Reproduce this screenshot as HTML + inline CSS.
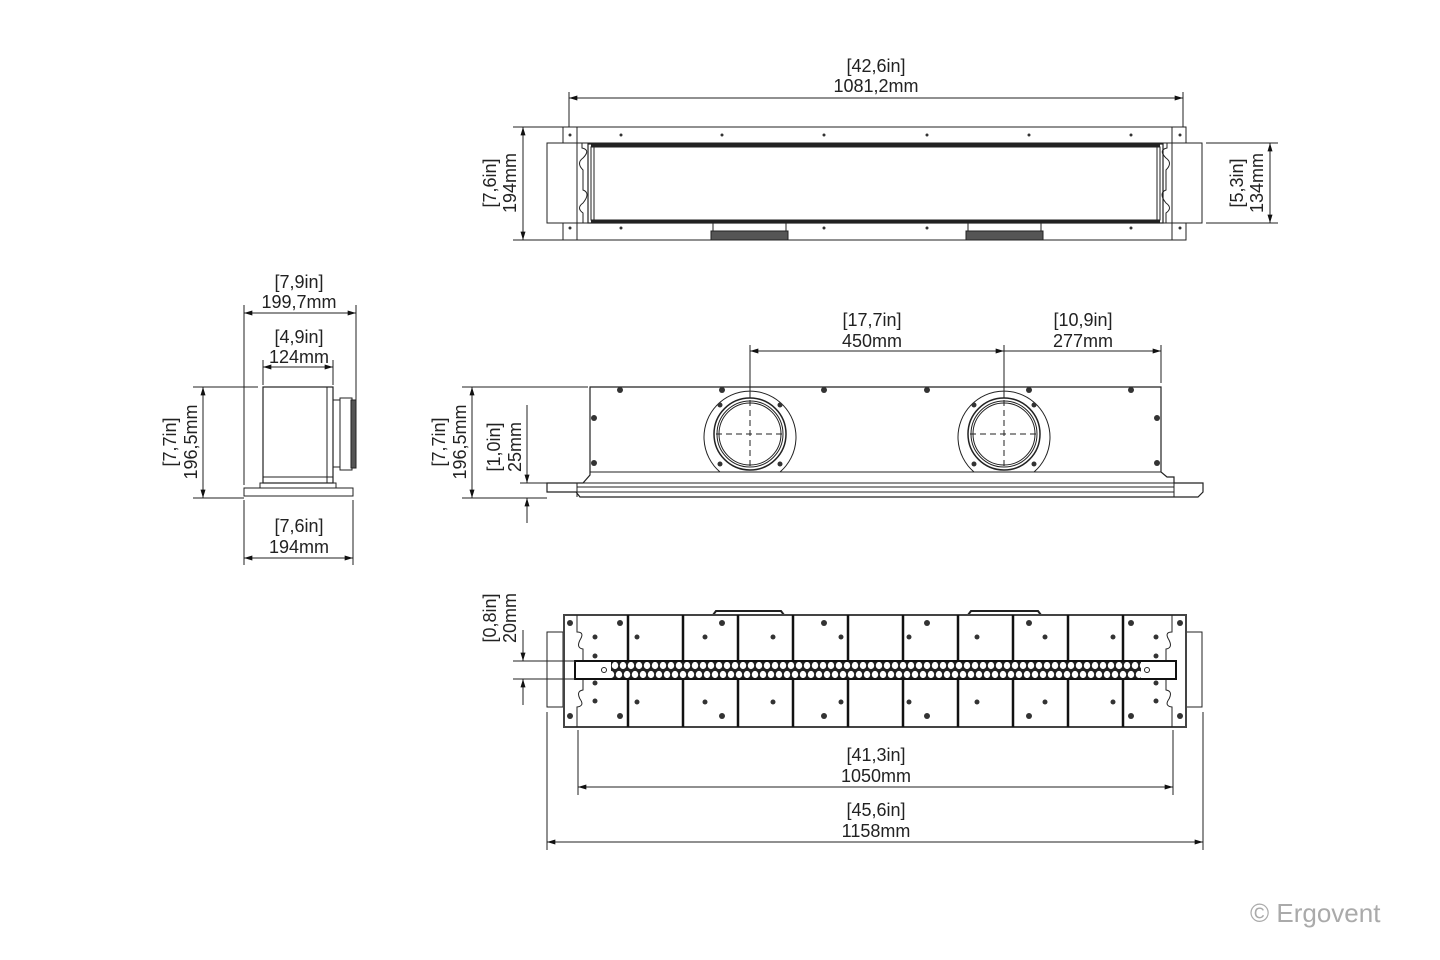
<!DOCTYPE html>
<html><head><meta charset="utf-8"><style>
html,body{margin:0;padding:0;background:#fff}
svg{display:block}
text{font-family:"Liberation Sans",sans-serif;font-size:18px;fill:#222}
</style></head><body>
<svg width="1440" height="960" viewBox="0 0 1440 960" xmlns="http://www.w3.org/2000/svg">
<defs>
<marker id="a" viewBox="0 0 10 6" refX="10" refY="3" markerWidth="14" markerHeight="5" orient="auto-start-reverse" markerUnits="userSpaceOnUse"><path d="M0,0L10,3L0,6z" fill="#111"/></marker>
<pattern id="hex" x="611" y="661" width="8" height="18" patternUnits="userSpaceOnUse">
<rect width="8" height="18" fill="#222"/>
<ellipse cx="4" cy="4.5" rx="3.2" ry="3.6" fill="#fff"/>
<ellipse cx="0" cy="13.5" rx="3.2" ry="3.6" fill="#fff"/>
<ellipse cx="8" cy="13.5" rx="3.2" ry="3.6" fill="#fff"/>
</pattern>
</defs>
<g fill="none" stroke="#222" stroke-width="1">

<!-- ================= TOP VIEW ================= -->
<line x1="569" y1="92" x2="569" y2="200"/>
<line x1="1183" y1="92" x2="1183" y2="200"/>
<line x1="569" y1="98" x2="1183" y2="98" marker-start="url(#a)" marker-end="url(#a)"/>
<rect x="563" y="127" width="623" height="113"/>
<rect x="547" y="143" width="655" height="80" fill="#fff"/>
<rect x="563" y="127" width="623" height="16" fill="#fff"/>
<rect x="563" y="223" width="623" height="17" fill="#fff"/>
<line x1="577" y1="127" x2="577" y2="240"/>
<line x1="1172" y1="127" x2="1172" y2="240"/>
<path d="M577,143 H582 V148 Q591,150 583,158 Q576,163 583,170 V190 Q591,193 583,203 Q576,208 583,213 V223"/>
<path d="M1172,143 H1167 V148 Q1158,150 1166,158 Q1173,163 1166,170 V190 Q1158,193 1166,203 Q1173,208 1166,213 V223"/>
<rect x="588" y="144" width="575" height="79" stroke-width="1.2"/>
<line x1="591" y1="145" x2="1160" y2="145" stroke-width="3"/>
<line x1="591" y1="221" x2="1160" y2="221" stroke-width="3"/>
<rect x="591" y="147" width="569" height="73"/>
<line x1="594" y1="147" x2="594" y2="220"/>
<line x1="1157" y1="147" x2="1157" y2="220"/>
<rect x="713" y="223" width="73" height="8"/>
<rect x="711" y="231" width="77" height="9" fill="#555"/>
<rect x="968" y="223" width="73" height="8"/>
<rect x="966" y="231" width="77" height="9" fill="#555"/>
<line x1="513" y1="127" x2="563" y2="127"/>
<line x1="513" y1="240" x2="563" y2="240"/>
<line x1="523" y1="127" x2="523" y2="240" marker-start="url(#a)" marker-end="url(#a)"/>
<line x1="1206" y1="143" x2="1278" y2="143"/>
<line x1="1206" y1="223" x2="1278" y2="223"/>
<line x1="1270" y1="143" x2="1270" y2="223" marker-start="url(#a)" marker-end="url(#a)"/>

<!-- ================= SIDE VIEW ================= -->
<line x1="244" y1="305" x2="244" y2="485"/>
<line x1="356" y1="305" x2="356" y2="400"/>
<line x1="244" y1="313" x2="356" y2="313" marker-start="url(#a)" marker-end="url(#a)"/>
<line x1="263" y1="360" x2="263" y2="385"/>
<line x1="333" y1="360" x2="333" y2="385"/>
<line x1="263" y1="367" x2="333" y2="367" marker-start="url(#a)" marker-end="url(#a)"/>
<rect x="263" y="387" width="70" height="96" stroke-width="1.2"/>
<line x1="327" y1="387" x2="327" y2="483"/>
<line x1="263" y1="477" x2="333" y2="477"/>
<rect x="260" y="483" width="76" height="5"/>
<path d="M333,400 H340 V467 H333"/>
<rect x="340" y="398" width="12" height="72"/>
<rect x="351" y="400" width="5" height="68" fill="#555"/>
<rect x="244" y="488" width="109" height="8" fill="#fff"/>
<line x1="193" y1="387" x2="258" y2="387"/>
<line x1="193" y1="498" x2="244" y2="498"/>
<line x1="203" y1="387" x2="203" y2="498" marker-start="url(#a)" marker-end="url(#a)"/>
<line x1="244" y1="500" x2="244" y2="565"/>
<line x1="353" y1="500" x2="353" y2="565"/>
<line x1="244" y1="558" x2="353" y2="558" marker-start="url(#a)" marker-end="url(#a)"/>

<!-- ================= FRONT VIEW ================= -->
<line x1="750" y1="345" x2="750" y2="398"/>
<line x1="1004" y1="345" x2="1004" y2="398"/>
<line x1="1161" y1="345" x2="1161" y2="383"/>
<line x1="750" y1="351" x2="1004" y2="351" marker-start="url(#a)" marker-end="url(#a)"/>
<line x1="1004" y1="351" x2="1161" y2="351" marker-end="url(#a)"/>
<path d="M590,387 H1161 V472 L1167,477 H1174 V483 H1203 V492 L1198,497 H580 L576,492 H547 V483 H583 L590,475 Z" stroke-width="1.2"/>
<line x1="590" y1="472" x2="1161" y2="472"/>
<line x1="577" y1="483" x2="1174" y2="483"/>
<line x1="577" y1="487" x2="1174" y2="487"/>
<line x1="577" y1="492" x2="1174" y2="492"/>
<line x1="577" y1="483" x2="577" y2="497"/>
<line x1="1174" y1="483" x2="1174" y2="497"/>
<path d="M720,472 A46,46 0 1 1 780,472"/>
<circle cx="750" cy="434" r="36" stroke-width="1.5"/>
<circle cx="750" cy="434" r="33"/>
<circle cx="750" cy="434" r="31"/>
<path d="M974,472 A46,46 0 1 1 1034,472"/>
<circle cx="1004" cy="434" r="36" stroke-width="1.5"/>
<circle cx="1004" cy="434" r="33"/>
<circle cx="1004" cy="434" r="31"/>
<g stroke-dasharray="6,4">
<line x1="716" y1="434" x2="784" y2="434"/>
<line x1="970" y1="434" x2="1038" y2="434"/>
<line x1="750" y1="400" x2="750" y2="470"/>
<line x1="1004" y1="400" x2="1004" y2="470"/>
</g>
<line x1="462" y1="387" x2="588" y2="387"/>
<line x1="462" y1="498" x2="547" y2="498"/>
<line x1="472" y1="387" x2="472" y2="498" marker-start="url(#a)" marker-end="url(#a)"/>
<line x1="527" y1="405" x2="527" y2="483" marker-end="url(#a)"/>
<line x1="527" y1="523" x2="527" y2="498" marker-end="url(#a)"/>
<line x1="520" y1="483" x2="547" y2="483"/>

<!-- ================= BOTTOM VIEW ================= -->
<rect x="547" y="632" width="16" height="75"/>
<rect x="1186" y="632" width="16" height="75"/>
<path d="M713,615 L716,611 H781 L784,615 M968,615 L971,611 H1038 L1041,615" stroke-width="2"/>
<rect x="564" y="615" width="622" height="112" stroke="#444" stroke-width="2"/>
<path d="M577,615 V632 Q585,632 580,640 Q576,648 583,649 V660 M577,727 V707 Q585,706 580,699 Q576,691 583,690 V680"/>
<path d="M1172,615 V632 Q1164,632 1169,640 Q1173,648 1166,649 V660 M1172,727 V707 Q1164,706 1169,699 Q1173,691 1166,690 V680"/>
<g stroke="#111" stroke-width="2.5">
<path d="M628,615v50M683,615v50M738,615v50M793,615v50M848,615v50M903,615v50M958,615v50M1013,615v50M1068,615v50M1123,615v50"/>
<path d="M628,675v52M683,675v52M738,675v52M793,675v52M848,675v52M903,675v52M958,675v52M1013,675v52M1068,675v52M1123,675v52"/>
</g>
<rect x="575" y="661" width="601" height="18" fill="#fff" stroke="#111" stroke-width="2"/>
<rect x="611" y="662" width="530" height="16" fill="url(#hex)" stroke="none"/>
<circle cx="604" cy="670" r="2.5"/>
<circle cx="1147" cy="670" r="2.5"/>
<line x1="513" y1="661" x2="575" y2="661"/>
<line x1="513" y1="679" x2="575" y2="679"/>
<line x1="523" y1="630" x2="523" y2="661" marker-end="url(#a)"/>
<line x1="523" y1="705" x2="523" y2="679" marker-end="url(#a)"/>
<line x1="578" y1="730" x2="578" y2="795"/>
<line x1="1173" y1="730" x2="1173" y2="795"/>
<line x1="578" y1="787" x2="1173" y2="787" marker-start="url(#a)" marker-end="url(#a)"/>
<line x1="547" y1="712" x2="547" y2="850"/>
<line x1="1203" y1="712" x2="1203" y2="850"/>
<line x1="547" y1="842" x2="1203" y2="842" marker-start="url(#a)" marker-end="url(#a)"/>
</g>

<g fill="#333">
<circle cx="621" cy="135" r="1.5"/><circle cx="722" cy="135" r="1.5"/><circle cx="824" cy="135" r="1.5"/><circle cx="927" cy="135" r="1.5"/><circle cx="1029" cy="135" r="1.5"/><circle cx="1131" cy="135" r="1.5"/><circle cx="570" cy="135" r="1.5"/><circle cx="1180" cy="135" r="1.5"/>
<circle cx="621" cy="228" r="1.5"/><circle cx="824" cy="228" r="1.5"/><circle cx="927" cy="228" r="1.5"/><circle cx="1131" cy="228" r="1.5"/><circle cx="570" cy="228" r="1.5"/><circle cx="1180" cy="228" r="1.5"/>
<circle cx="620" cy="390" r="3"/><circle cx="722" cy="390" r="3"/><circle cx="824" cy="390" r="3"/><circle cx="927" cy="390" r="3"/><circle cx="1029" cy="390" r="3"/><circle cx="1131" cy="390" r="3"/>
<circle cx="594" cy="418" r="3"/><circle cx="594" cy="463" r="3"/><circle cx="1157" cy="418" r="3"/><circle cx="1157" cy="463" r="3"/>
<circle cx="720" cy="405" r="2.5"/><circle cx="780" cy="405" r="2.5"/><circle cx="720" cy="464" r="2.5"/><circle cx="780" cy="464" r="2.5"/>
<circle cx="974" cy="405" r="2.5"/><circle cx="1034" cy="405" r="2.5"/><circle cx="974" cy="464" r="2.5"/><circle cx="1034" cy="464" r="2.5"/>
<circle cx="570" cy="623" r="3"/><circle cx="620" cy="623" r="3"/><circle cx="722" cy="623" r="3"/><circle cx="824" cy="623" r="3"/><circle cx="927" cy="623" r="3"/><circle cx="1029" cy="623" r="3"/><circle cx="1131" cy="623" r="3"/><circle cx="1180" cy="623" r="3"/>
<circle cx="570" cy="716" r="3"/><circle cx="620" cy="716" r="3"/><circle cx="722" cy="716" r="3"/><circle cx="824" cy="716" r="3"/><circle cx="927" cy="716" r="3"/><circle cx="1029" cy="716" r="3"/><circle cx="1131" cy="716" r="3"/><circle cx="1180" cy="716" r="3"/>
<circle cx="595" cy="637" r="2.5"/><circle cx="595" cy="656" r="2.5"/><circle cx="595" cy="683" r="2.5"/><circle cx="595" cy="701" r="2.5"/>
<circle cx="1156" cy="637" r="2.5"/><circle cx="1156" cy="656" r="2.5"/><circle cx="1156" cy="683" r="2.5"/><circle cx="1156" cy="701" r="2.5"/>
<circle cx="637" cy="637" r="2.5"/><circle cx="705" cy="637" r="2.5"/><circle cx="773" cy="637" r="2.5"/><circle cx="841" cy="637" r="2.5"/><circle cx="909" cy="637" r="2.5"/><circle cx="977" cy="637" r="2.5"/><circle cx="1045" cy="637" r="2.5"/><circle cx="1113" cy="637" r="2.5"/>
<circle cx="637" cy="702" r="2.5"/><circle cx="705" cy="702" r="2.5"/><circle cx="773" cy="702" r="2.5"/><circle cx="841" cy="702" r="2.5"/><circle cx="909" cy="702" r="2.5"/><circle cx="977" cy="702" r="2.5"/><circle cx="1045" cy="702" r="2.5"/><circle cx="1113" cy="702" r="2.5"/>
</g>

<g text-anchor="middle">
<text x="876" y="72">[42,6in]</text><text x="876" y="92">1081,2mm</text>
<text x="299" y="288">[7,9in]</text><text x="299" y="308">199,7mm</text>
<text x="299" y="343">[4,9in]</text><text x="299" y="363">124mm</text>
<text x="299" y="532">[7,6in]</text><text x="299" y="553">194mm</text>
<text x="872" y="326">[17,7in]</text><text x="872" y="347">450mm</text>
<text x="1083" y="326">[10,9in]</text><text x="1083" y="347">277mm</text>
<text x="876" y="761">[41,3in]</text><text x="876" y="782">1050mm</text>
<text x="876" y="816">[45,6in]</text><text x="876" y="837">1158mm</text>
<text transform="translate(496,183) rotate(-90)">[7,6in]</text><text transform="translate(516,183) rotate(-90)">194mm</text>
<text transform="translate(1243,183) rotate(-90)">[5,3in]</text><text transform="translate(1263,183) rotate(-90)">134mm</text>
<text transform="translate(176,442) rotate(-90)">[7,7in]</text><text transform="translate(197,442) rotate(-90)">196,5mm</text>
<text transform="translate(445,442) rotate(-90)">[7,7in]</text><text transform="translate(466,442) rotate(-90)">196,5mm</text>
<text transform="translate(500,447) rotate(-90)">[1,0in]</text><text transform="translate(521,447) rotate(-90)">25mm</text>
<text transform="translate(496,618) rotate(-90)">[0,8in]</text><text transform="translate(516,618) rotate(-90)">20mm</text>
</g>
<text x="1250" y="922" style="font-size:26px;fill:#aaa">© Ergovent</text>
</svg>
</body></html>
